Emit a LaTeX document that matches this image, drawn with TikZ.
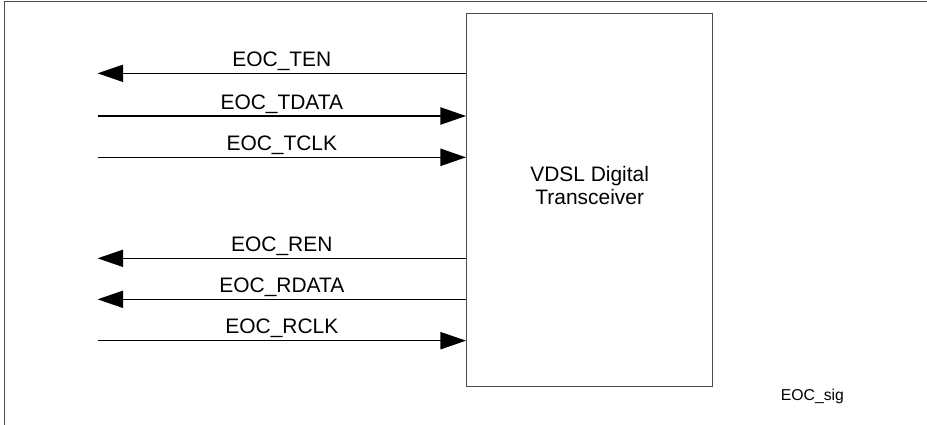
\documentclass[tikz,border=0pt]{standalone}
\usepackage{fontspec}
\setmainfont{Liberation Sans}
\usetikzlibrary{arrows.meta, positioning}

\begin{document}
\begin{tikzpicture}[
    >={Triangle[length=0.64cm, width=0.43cm]},
    sig/.style={line width=1pt, ->},
    siglabel/.style={midway, anchor=base, yshift=0.17cm, inner sep=0pt, font=\fontsize{14.9}{17}\selectfont}
]
\useasboundingbox (0,0) rectangle (23.175,-10.625);
% outer frame (only top and left edges show)
\draw[line width=0.8pt, black!70] (0.1125,-10.625) |- (23.175,-0.0375);
\node (transceiver) [draw=black!70, line width=0.9pt, minimum width=6.15cm, minimum height=9.33cm, inner sep=0pt] at (14.742,-5.002) {};
\node (transceiver_text) [align=center, inner sep=0pt, font=\fontsize{14.9}{16.5}\selectfont] at ([yshift=0.36cm]transceiver.center) {VDSL Digital\\Transceiver};
\coordinate (ten_end) at (2.44,-1.833);
\coordinate (tdata_end) at (2.44,-2.9);
\coordinate (tclk_end) at (2.44,-3.933);
\coordinate (ren_end) at (2.44,-6.458);
\coordinate (rdata_end) at (2.44,-7.483);
\coordinate (rclk_end) at (2.44,-8.517);
\draw[sig] (transceiver.west |- ten_end) -- node[siglabel] {EOC\_TEN} (ten_end);
\draw[sig] (tdata_end) -- node[siglabel] {EOC\_TDATA} (transceiver.west |- tdata_end);
\draw[sig] (tclk_end) -- node[siglabel] {EOC\_TCLK} (transceiver.west |- tclk_end);
\draw[sig] (transceiver.west |- ren_end) -- node[siglabel] {EOC\_REN} (ren_end);
\draw[sig] (transceiver.west |- rdata_end) -- node[siglabel] {EOC\_RDATA} (rdata_end);
\draw[sig] (rclk_end) -- node[siglabel] {EOC\_RCLK} (transceiver.west |- rclk_end);
\node (figure_tag) [anchor=base, inner sep=0pt, font=\fontsize{11.2}{13}\selectfont] at (20.31,-10.0) {EOC\_sig};
\end{tikzpicture}
\end{document}
